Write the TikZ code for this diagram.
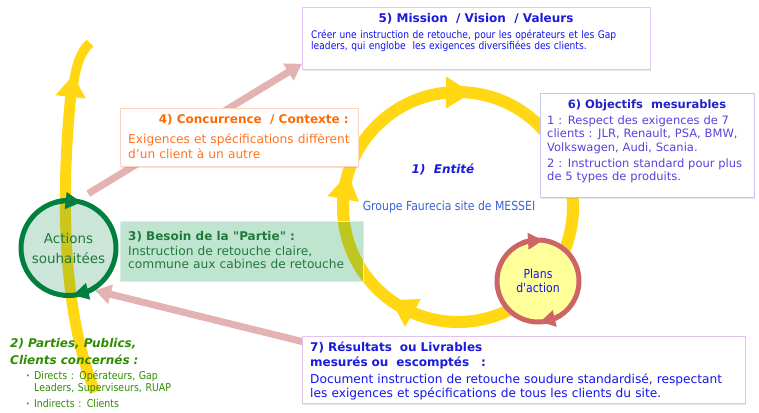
\documentclass[tikz,border=0pt]{standalone}
\usepackage{fontspec}
\setmainfont{DejaVu Sans}[Ligatures=TeXOff]
\newfontfamily\etroit[FakeStretch=0.87,Ligatures=TeXOff]{DejaVu Sans}
\usetikzlibrary{arrows.meta,bending,shadows}
\pgfdeclarelayer{fond}
\pgfsetlayers{fond,main}
\definecolor{jaune}{HTML}{FFD712}
\definecolor{rose}{HTML}{E3B2B2}
\definecolor{vert}{HTML}{007F3F}
\definecolor{vertBoite}{HTML}{009646}
\definecolor{vertTexte}{HTML}{1F7A3A}
\definecolor{vertParties}{HTML}{2F8C00}
\definecolor{rougePlans}{HTML}{CC6666}
\definecolor{jaunePlans}{HTML}{FFFF99}
\definecolor{bleuTitre}{HTML}{1A1AE0}
\definecolor{bleu}{HTML}{1414F0}
\definecolor{bleuGroupe}{HTML}{3A62D2}
\definecolor{violetObj}{HTML}{5B40DD}
\definecolor{bleuObj}{HTML}{2222C8}
\definecolor{orangeTitre}{HTML}{FF6A00}
\definecolor{orangeTexte}{HTML}{FF7424}
\definecolor{bordMission}{HTML}{E6C6F4}
\definecolor{bordObj}{HTML}{C6C6F4}
\definecolor{bordConc}{HTML}{FFD4BC}
\definecolor{bordRes}{HTML}{E4C2EE}
\definecolor{bordBesoin}{HTML}{DCEFE3}
\newcommand{\puce}{\makebox[8pt][l]{\raisebox{1pt}{\fontsize{7}{7}\selectfont\textbullet}}}
\newcommand{\titre}{\fontsize{12}{15}\selectfont\bfseries}
\tikzset{
  cadre/.style={draw=#1, line width=0.8pt, fill=white, anchor=north west, inner sep=0pt,
    drop shadow={opacity=0.2, shadow xshift=0.8pt, shadow yshift=-1.2pt}},
  texte/.style={anchor=base west, inner sep=0pt, align=left},
  anneau/.style={draw=jaune, line width=12pt, line cap=butt, -{Triangle[width=30pt,length=26pt]}},
  fleche rose/.style={draw=rose, line width=7pt, line cap=butt, -{Triangle[width=19pt,length=16pt]}},
  rond/.style={circle, line width=5pt, inner sep=0pt, align=center},
}
\begin{document}
\begin{tikzpicture}[x=1pt, y=1pt, font=\fontsize{12}{15}\selectfont, line join=round, line cap=round]
	\def\r{115} % rayon de l'anneau
	\useasboundingbox (0,0) rectangle (759,-412);
	\coordinate (E) at (458,-207); % centre de l'anneau
	% cercles
	\node[rond, draw=vert, fill=vert, fill opacity=0.2, draw opacity=1, text opacity=1, text=vertTexte,
		minimum size=95pt, font=\fontsize{13.5}{20}\selectfont] (actions) at (68.5,-248) {Actions\\souhaitées};
	\node[rond, draw=rougePlans, fill=jaunePlans, text=bleu, minimum size=82pt,
		font=\etroit\fontsize{12.5}{14}\selectfont] (plans) at (538,-281) {Plans\\d'action};
	\draw[draw=vert, line width=5pt, line cap=butt, -{Triangle[width=16pt,length=16pt]}]
		(actions.center) ++(106:47.5) arc[start angle=106, end angle=74, radius=47.5];
	\draw[draw=vert, line width=5pt, line cap=butt, -{Triangle[width=16pt,length=16pt]}]
		(actions.center) ++(-54:47.5) arc[start angle=-54, end angle=-85, radius=47.5];
	\draw[draw=rougePlans, line width=5pt, line cap=butt, -{Triangle[width=16pt,length=15pt]}]
		(plans.center) ++(114:41) arc[start angle=114, end angle=83, radius=41];
	\draw[draw=rougePlans, line width=5pt, line cap=butt, -{Triangle[width=16pt,length=15pt]}]
		(plans.center) ++(-56:41) arc[start angle=-56, end angle=-87, radius=41];
	% 5) mission
	\node[cadre=bordMission, minimum width=348pt, minimum height=62pt] (mission) at (302,-7) {};
	\node[anchor=base, inner sep=0pt, text=bleuTitre, font=\titre] (missionTitre) at (476,-23)
		{5) Mission\ \ / Vision\ \ / Valeurs};
	\node[texte, text width=340pt, text=bleu, font=\etroit\fontsize{10.5}{11.5}\selectfont] (missionCorps) at (311,-38)
		{Créer une instruction de retouche, pour les opérateurs et les Gap\\leaders, qui englobe\ \ les exigences diversifiées des clients.};
	% 6) objectifs
	\node[cadre=bordObj, minimum width=214pt, minimum height=104pt] (objectifs) at (540,-93) {};
	\node[anchor=base, inner sep=0pt, text=bleuObj, font=\fontsize{11.5}{14}\selectfont\bfseries] (objectifsTitre) at (647,-108)
		{6) Objectifs\ \ mesurables};
	\node[texte, text width=210pt, text=violetObj, font=\fontsize{11.5}{13.5}\selectfont] (objectifsCorps) at (547,-124)
		{1 : Respect des exigences de 7\\clients : JLR, Renault, PSA, BMW,\\Volkswagen, Audi, Scania.\\[2.5pt]2 : Instruction standard pour plus\\de 5 types de produits.};
	% 4) concurrence
	\node[cadre=bordConc, minimum width=238pt, minimum height=58pt] (concurrence) at (120,-108) {};
	\node[anchor=base east, inner sep=0pt, text=orangeTitre, font=\titre] (concurrenceTitre) at (349,-123)
		{4) Concurrence\ \ / Contexte :};
	\node[texte, text width=232pt, text=orangeTexte, font=\fontsize{12.2}{15}\selectfont] (concurrenceCorps) at (128,-143)
		{Exigences et spécifications diffèrent\\d’un client à un autre};
	% 3) besoin
	\node[anchor=north west, draw=bordBesoin, line width=0.8pt, fill=vertBoite, fill opacity=0.25, draw opacity=1,
		minimum width=243pt, minimum height=60pt, inner sep=0pt] (besoin) at (120,-221) {};
	\node[texte, text=vertTexte, font=\titre] (besoinTitre) at (128,-240) {3) Besoin de la "Partie" :};
	\node[texte, text width=235pt, text=vertTexte, font=\fontsize{12.2}{13.5}\selectfont] (besoinCorps) at (128,-255)
		{Instruction de retouche claire,\\commune aux cabines de retouche};
	% 7) resultats
	\node[cadre=bordRes, minimum width=443pt, minimum height=67pt] (resultats) at (302,-336) {};
	\node[texte, text width=300pt, text=bleuTitre, font=\titre] (resultatsTitre) at (310,-351)
		{7) Résultats\ \ ou Livrables\\mesurés ou\ \ escomptés\ \ \ :};
	\node[texte, text width=432pt, text=bleu, font=\fontsize{12.2}{14}\selectfont] (resultatsCorps) at (310,-383)
		{Document instruction de retouche soudure standardisé, respectant\\les exigences et spécifications de tous les clients du site.};
	% 1) entite
	\node[anchor=base, inner sep=0pt, text=bleuTitre, font=\titre\itshape] (entite) at (443,-173) {1)\ \ Entité};
	\node[anchor=base, inner sep=0pt, text=bleuGroupe, font=\etroit\fontsize{12.5}{15}\selectfont] (groupe) at (449,-210)
		{Groupe Faurecia site de MESSEI};
	% 2) parties
	\node[texte, text width=200pt, text=vertParties, font=\fontsize{12}{17}\selectfont\bfseries\itshape] (parties) at (10,-347)
		{2) Parties, Publics,\\Clients concernés :};
	\node[texte, text width=200pt, text=vertParties, font=\etroit\fontsize{10.8}{12}\selectfont] (publics) at (26,-379)
		{\puce Directs : Opérateurs, Gap\\\hspace*{8pt}Leaders, Superviseurs, RUAP\\[4pt]\puce Indirects : Clients};
	% fond : anneau, fleches
	\begin{pgfonlayer}{fond}
		\draw[anneau] (E) ++(-55:\r) arc[start angle=-55, end angle=-126, radius=\r];
		\draw[anneau] (E) ++(-118:\r) arc[start angle=-118, end angle=-197, radius=\r];
		\draw[anneau] (E) ++(171:\r) arc[start angle=171, end angle=83, radius=\r];
		\draw[draw=jaune, line width=12pt, line cap=butt] (E) ++(91:\r) arc[start angle=91, end angle=-40, radius=\r];
		\draw[draw=jaune, line width=11pt, line cap=butt, -{Triangle[width=29pt,length=22pt]}]
			(95,-392) .. controls (58,-300) and (62,-170) .. (73,-75);
		\draw[draw=jaune, line width=9.5pt, line cap=butt] (72.5,-95) .. controls (74,-70) and (80,-52) .. (90,-43);
		\draw[fleche rose] ([shift={(1,8)}]actions.68) -- ([yshift=6pt]mission.south west);
		\draw[fleche rose] ([shift={(10,-8)}]resultats.north west) -- (actions.-58);
	\end{pgfonlayer}
\end{tikzpicture}
\end{document}
